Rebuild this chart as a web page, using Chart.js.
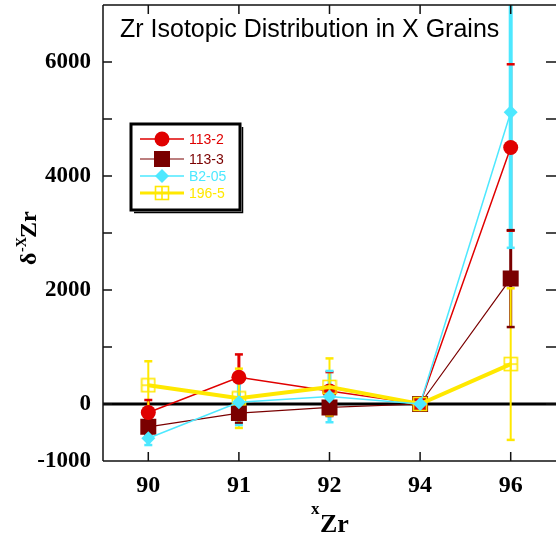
<!DOCTYPE html>
<html>
<head>
<meta charset="utf-8">
<script src="https://cdn.jsdelivr.net/npm/chart.js@4"></script>
<style>
    html, body { margin: 0; padding: 0; background: #fff; }
    #wrap { position: relative; width: 556px; height: 539px; }
</style>
</head>
<body>
<div id="wrap"><canvas id="zrChart" width="556" height="539"></canvas></div>
<script>
// data
const isotopes = ['90', '91', '92', '94', '96'];
const yTicks = [-1000, 0, 1000, 2000, 3000, 4000, 5000, 6000, 7000];

const g1132 = [-150, 470, 230, 0, 4500];
const g1132Err = [220, 400, 330, 0, 1460];
const g1133 = [-400, -160, -60, 0, 2200];
const g1133Err = [150, 170, 150, 0, 850];
const gB205 = [-600, 30, 130, 0, 5120];
const gB205Err = [120, 400, 450, 0, 2380];
const g1965 = [330, 100, 300, 0, 700];
const g1965Err = [420, 520, 500, 0, 1330];

const RED = '#e00000', DARK = '#7a0000', CYAN = '#4de8ff', YELLOW = '#ffe800';
const SERIF = '"Liberation Serif", "Times New Roman", serif';
const SANS = '"Liberation Sans", Arial, sans-serif';

// open square with a cross, for 196-5
function boxCross(color) {
    const c = document.createElement('canvas');
    c.width = 16; c.height = 16;
    const x = c.getContext('2d');
    x.strokeStyle = color;
    x.lineWidth = 1.6;
    x.strokeRect(1.5, 1.5, 13, 13);
    x.beginPath();
    x.moveTo(8, 1.5); x.lineTo(8, 14.5);
    x.moveTo(1.5, 8); x.lineTo(14.5, 8);
    x.stroke();
    return c;
}
const yellowMark = boxCross(YELLOW);

const series = [
    { label: '113-2', data: g1132, err: g1132Err, color: RED, lw: 1.5, style: 'circle', r: 7.5, ew: 3 },
    { label: '113-3', data: g1133, err: g1133Err, color: DARK, lw: 1.2, style: 'rect', r: 11.3, ew: 3 },
    { label: 'B2-05', data: gB205, err: gB205Err, color: CYAN, lw: 1.5, style: 'rectRot', r: 7, ew: 4 },
    { label: '196-5', data: g1965, err: g1965Err, color: YELLOW, lw: 4, style: yellowMark, r: 8, ew: 2 }
];

const frame = {
    id: 'frame',
    beforeDatasetsDraw(chart) {
        const { ctx, chartArea: a, scales: { x, y } } = chart;
        ctx.save();
        ctx.beginPath();
        ctx.rect(a.left, a.top, a.right - a.left, a.bottom - a.top);
        ctx.clip();
        // zero line
        ctx.strokeStyle = '#000';
        ctx.lineWidth = 3;
        ctx.beginPath();
        ctx.moveTo(a.left, y.getPixelForValue(0));
        ctx.lineTo(a.right, y.getPixelForValue(0));
        ctx.stroke();
        // error bars, cyan after the reds so it sits over them
        const caps = [];
        series.forEach(s => {
            ctx.strokeStyle = s.color;
            ctx.lineWidth = s.ew;
            s.data.forEach((v, j) => {
                if (!s.err[j]) return;
                const px = x.getPixelForValue(j);
                const top = y.getPixelForValue(v + s.err[j]);
                const bot = y.getPixelForValue(v - s.err[j]);
                ctx.beginPath();
                ctx.moveTo(px, top);
                ctx.lineTo(px, bot);
                ctx.stroke();
                caps.push([s.color, px, top], [s.color, px, bot]);
            });
        });
        caps.forEach(([c, px, py]) => {
            ctx.strokeStyle = c;
            ctx.lineWidth = 2.5;
            ctx.beginPath();
            ctx.moveTo(px - 4, py);
            ctx.lineTo(px + 4, py);
            ctx.stroke();
        });
        ctx.restore();
    },
    afterDraw(chart) {
        const { ctx, chartArea: a, scales: { x, y } } = chart;
        ctx.save();
        ctx.strokeStyle = '#111';
        ctx.lineWidth = 1.5;
        ctx.beginPath();
        ctx.moveTo(a.left, a.top); ctx.lineTo(a.left, a.bottom);
        ctx.moveTo(a.left, a.bottom); ctx.lineTo(a.right, a.bottom);
        ctx.moveTo(a.left, a.top); ctx.lineTo(a.right, a.top);
        yTicks.forEach(v => {
            const py = y.getPixelForValue(v);
            ctx.moveTo(a.left, py); ctx.lineTo(a.left + 9, py);
            ctx.moveTo(a.right - 10, py); ctx.lineTo(a.right, py);
        });
        isotopes.forEach((_, j) => {
            const px = x.getPixelForValue(j);
            ctx.moveTo(px, a.bottom); ctx.lineTo(px, a.bottom - 9);
            ctx.moveTo(px, a.top); ctx.lineTo(px, a.top + 9);
        });
        ctx.stroke();

        // title inside the plot
        ctx.fillStyle = '#000';
        ctx.font = '25px ' + SANS;
        ctx.textBaseline = 'alphabetic';
        ctx.textAlign = 'left';
        ctx.fillText('Zr Isotopic Distribution in X Grains', a.left + 17, 37);

        // x title: superscript x + Zr
        ctx.font = 'bold 17px ' + SERIF;
        ctx.fillText('x', 311, 514);
        ctx.font = 'bold 26px ' + SERIF;
        ctx.fillText('Zr', 320, 532);

        // y title, rotated
        ctx.save();
        ctx.translate(36, 231);
        ctx.rotate(-Math.PI / 2);
        ctx.textAlign = 'left';
        ctx.font = 'bold 24px ' + SERIF;
        ctx.fillText('δ', -34, 0);
        ctx.font = 'bold 14px ' + SERIF;
        ctx.fillText('-X', -21, -10);
        ctx.font = 'bold 24px ' + SERIF;
        ctx.fillText('Zr', -7, 0);
        ctx.restore();

        // legend box
        const lx = 131, ly = 124, lw = 109, lh = 86;
        ctx.lineWidth = 3;
        ctx.strokeStyle = '#000';
        ctx.fillStyle = '#fff';
        ctx.fillRect(lx, ly, lw, lh);
        ctx.strokeRect(lx, ly, lw, lh);
        ctx.lineWidth = 1.5;
        ctx.beginPath();
        ctx.moveTo(lx + lw + 2.5, ly + 3); ctx.lineTo(lx + lw + 2.5, ly + lh + 2.5); ctx.lineTo(lx + 3, ly + lh + 2.5);
        ctx.stroke();
        const rows = [139, 159, 176, 193];
        ctx.font = '14px ' + SANS;
        ctx.textBaseline = 'middle';
        series.forEach((s, i) => {
            const ry = rows[i];
            ctx.strokeStyle = s.color;
            ctx.lineWidth = Math.min(s.lw, 3);
            ctx.beginPath();
            ctx.moveTo(140, ry); ctx.lineTo(184, ry);
            ctx.stroke();
            ctx.fillStyle = s.color;
            Chart.helpers.drawPoint(ctx, { pointStyle: s.style, radius: s.r, rotation: 0, borderWidth: 0 }, 162, ry);
            ctx.fillStyle = s.color;
            ctx.fillText(s.label, 189, ry + 1);
        });
        ctx.restore();
    }
};

new Chart(document.getElementById('zrChart'), {
    type: 'line',
    data: {
        labels: isotopes,
        datasets: series.map((s, i) => ({
            label: s.label,
            data: s.data,
            borderColor: s.color,
            backgroundColor: s.color,
            borderWidth: s.lw,
            pointStyle: s.style,
            pointRadius: s.r,
            pointHoverRadius: s.r,
            pointBorderWidth: 0,
            pointBackgroundColor: s.color,
            tension: 0,
            order: [2, 3, 0, 1][i]
        }))
    },
    plugins: [frame],
    options: {
        responsive: false,
        animation: false,
        events: [],
        layout: { autoPadding: false, padding: { top: 5, right: -3, left: 0, bottom: 0 } },
        plugins: { legend: { display: false }, tooltip: { enabled: false } },
        scales: {
            x: {
                type: 'category',
                offset: true,
                grid: { display: false, drawTicks: false },
                border: { display: false },
                ticks: { color: '#000', padding: 10, font: { family: SERIF, size: 24, weight: 'bold' } },
                afterFit: s => { s.height = 78; s.paddingLeft = 0; s.paddingRight = 0; }
            },
            y: {
                min: -1000,
                max: 7000,
                grid: { display: false, drawTicks: false },
                border: { display: false },
                ticks: {
                    stepSize: 1000,
                    color: '#000',
                    padding: 12,
                    font: { family: SERIF, size: 23, weight: 'bold' },
                    callback: v => (v === -1000 || (v % 2000 === 0 && v !== 7000)) ? String(v) : ''
                },
                afterFit: s => { s.width = 103; s.paddingTop = 0; s.paddingBottom = 0; }
            }
        }
    }
});
</script>
</body>
</html>
